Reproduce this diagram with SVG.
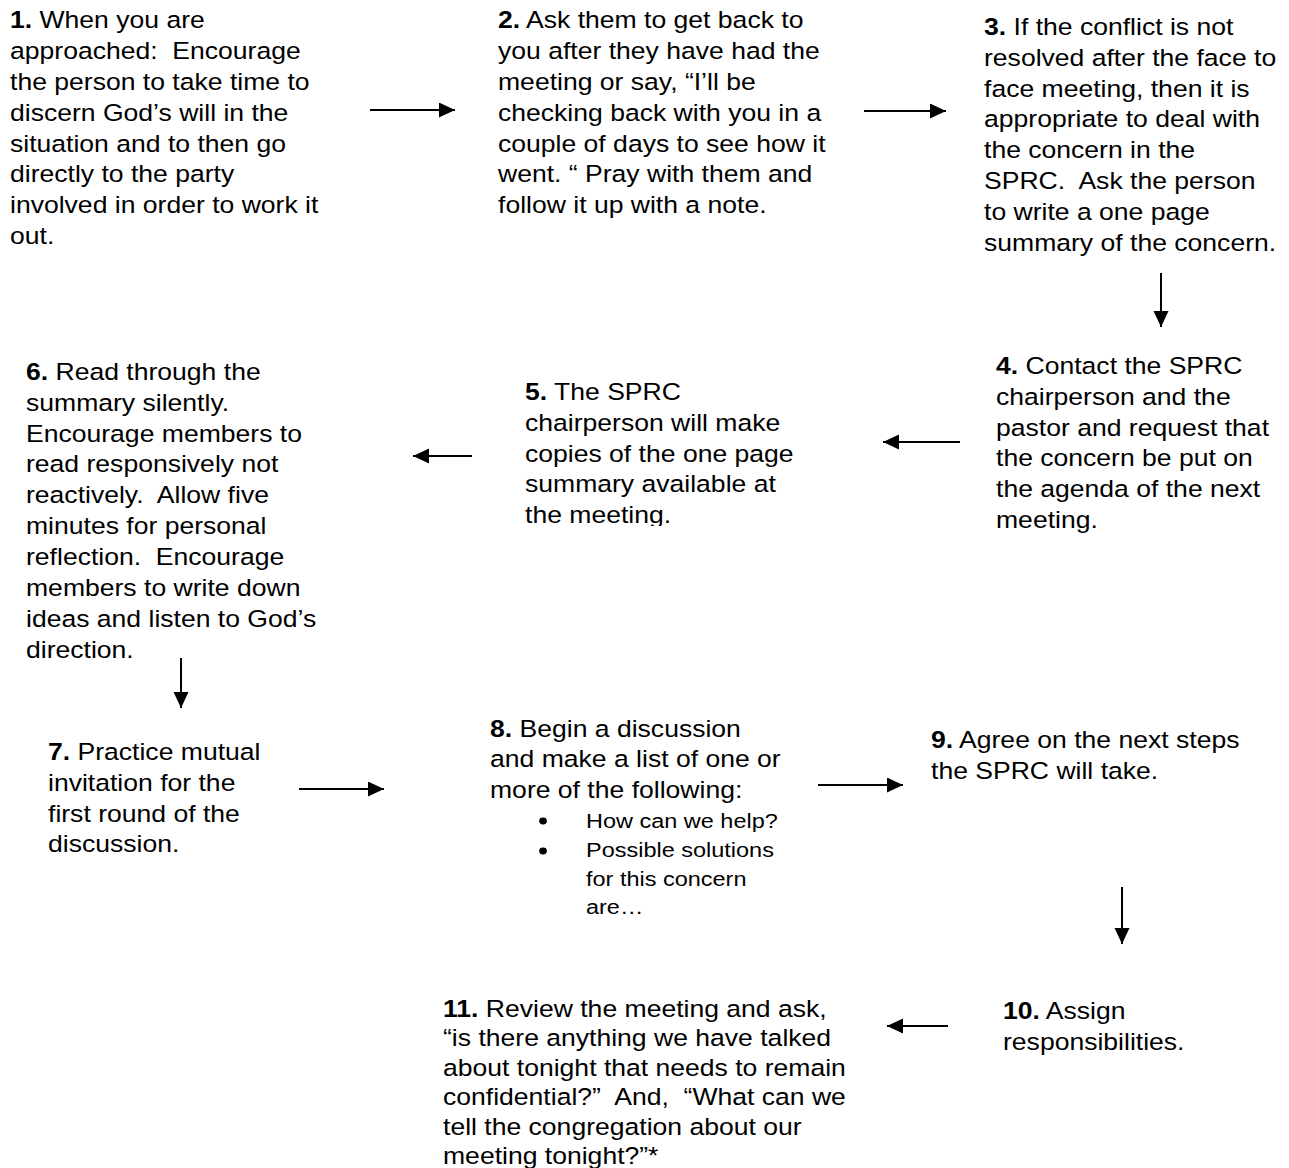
<svg xmlns="http://www.w3.org/2000/svg" width="1289" height="1168" viewBox="0 0 1289 1168">
<style>
  text { font-family: "Liberation Sans", Arial, sans-serif; font-size: 23.3px; fill: #000; }
  .b { font-weight: bold; }
  .sm { font-size: 20.6px; }
  .arr { stroke: #000; stroke-width: 2; fill: none; marker-end: url(#ah); }
</style>
<defs>
  <marker id="ah" markerUnits="userSpaceOnUse" markerWidth="17" markerHeight="16" refX="16" refY="7.5" orient="auto">
    <path d="M0,0 L16,7.5 L0,15 z" fill="#000"/>
  </marker>
  <clipPath id="c5"><rect x="-100" y="300" width="500" height="226"/></clipPath>
</defs>
<rect width="1289" height="1168" fill="#fff"/>

<g id="n1" transform="translate(10,0) scale(1.14,1)">
  <text>
    <tspan x="0" y="28.3"><tspan class="b">1.</tspan> When you are</tspan>
    <tspan x="0" y="59.1">approached:&#160; Encourage</tspan>
    <tspan x="0" y="90">the person to take time to</tspan>
    <tspan x="0" y="120.8">discern God’s will in the</tspan>
    <tspan x="0" y="151.7">situation and to then go</tspan>
    <tspan x="0" y="182.5">directly to the party</tspan>
    <tspan x="0" y="213.4">involved in order to work it</tspan>
    <tspan x="0" y="244.2">out.</tspan>
  </text>
</g>

<g id="n2" transform="translate(498,0) scale(1.14,1)">
  <text>
    <tspan x="0" y="28.3"><tspan class="b">2.</tspan> Ask them to get back to</tspan>
    <tspan x="0" y="59.1">you after they have had the</tspan>
    <tspan x="0" y="90">meeting or say, “I’ll be</tspan>
    <tspan x="0" y="120.8">checking back with you in a</tspan>
    <tspan x="0" y="151.7">couple of days to see how it</tspan>
    <tspan x="0" y="182.5">went. “ Pray with them and</tspan>
    <tspan x="0" y="213.4">follow it up with a note.</tspan>
  </text>
</g>

<g id="n3" transform="translate(984,0) scale(1.14,1)">
  <text>
    <tspan x="0" y="35"><tspan class="b">3.</tspan> If the conflict is not</tspan>
    <tspan x="0" y="65.8">resolved after the face to</tspan>
    <tspan x="0" y="96.7">face meeting, then it is</tspan>
    <tspan x="0" y="127.5">appropriate to deal with</tspan>
    <tspan x="0" y="158.4">the concern in the</tspan>
    <tspan x="0" y="189.2">SPRC.&#160; Ask the person</tspan>
    <tspan x="0" y="220.1">to write a one page</tspan>
    <tspan x="0" y="250.9">summary of the concern.</tspan>
  </text>
</g>

<g id="n4" transform="translate(996,0) scale(1.14,1)">
  <text>
    <tspan x="0" y="374"><tspan class="b">4.</tspan> Contact the SPRC</tspan>
    <tspan x="0" y="404.8">chairperson and the</tspan>
    <tspan x="0" y="435.7">pastor and request that</tspan>
    <tspan x="0" y="466.5">the concern be put on</tspan>
    <tspan x="0" y="497.4">the agenda of the next</tspan>
    <tspan x="0" y="528.2">meeting.</tspan>
  </text>
</g>

<g id="n5" transform="translate(525,0) scale(1.14,1)">
  <text clip-path="url(#c5)">
    <tspan x="0" y="400"><tspan class="b">5.</tspan> The SPRC</tspan>
    <tspan x="0" y="430.8">chairperson will make</tspan>
    <tspan x="0" y="461.7">copies of the one page</tspan>
    <tspan x="0" y="492.5">summary available at</tspan>
    <tspan x="0" y="523.4">the meeting.</tspan>
  </text>
</g>

<g id="n6" transform="translate(26,0) scale(1.14,1)">
  <text>
    <tspan x="0" y="380"><tspan class="b">6.</tspan> Read through the</tspan>
    <tspan x="0" y="410.8">summary silently.</tspan>
    <tspan x="0" y="441.7">Encourage members to</tspan>
    <tspan x="0" y="472.5">read responsively not</tspan>
    <tspan x="0" y="503.4">reactively.&#160; Allow five</tspan>
    <tspan x="0" y="534.2">minutes for personal</tspan>
    <tspan x="0" y="565.1">reflection.&#160; Encourage</tspan>
    <tspan x="0" y="595.9">members to write down</tspan>
    <tspan x="0" y="626.8">ideas and listen to God’s</tspan>
    <tspan x="0" y="657.6">direction.</tspan>
  </text>
</g>

<g id="n7" transform="translate(48,0) scale(1.14,1)">
  <text>
    <tspan x="0" y="760"><tspan class="b">7.</tspan> Practice mutual</tspan>
    <tspan x="0" y="790.8">invitation for the</tspan>
    <tspan x="0" y="821.7">first round of the</tspan>
    <tspan x="0" y="852.5">discussion.</tspan>
  </text>
</g>

<g id="n8" transform="translate(490,0) scale(1.14,1)">
  <text>
    <tspan x="0" y="737"><tspan class="b">8.</tspan> Begin a discussion</tspan>
    <tspan x="0" y="767.5">and make a list of one or</tspan>
    <tspan x="0" y="798">more of the following:</tspan>
  </text>
  <circle cx="46.5" cy="821" r="3.4"/>
  <circle cx="46.5" cy="851" r="3.4"/>
  <text class="sm">
    <tspan x="84.2" y="828.3">How can we help?</tspan>
    <tspan x="84.2" y="857.5">Possible solutions</tspan>
    <tspan x="84.2" y="886">for this concern</tspan>
    <tspan x="84.2" y="914.5">are…</tspan>
  </text>
</g>

<g id="n9" transform="translate(931,0) scale(1.14,1)">
  <text>
    <tspan x="0" y="748"><tspan class="b">9.</tspan> Agree on the next steps</tspan>
    <tspan x="0" y="778.8">the SPRC will take.</tspan>
  </text>
</g>

<g id="n10" transform="translate(1003,0) scale(1.14,1)">
  <text>
    <tspan x="0" y="1019"><tspan class="b">10.</tspan> Assign</tspan>
    <tspan x="0" y="1049.8">responsibilities.</tspan>
  </text>
</g>

<g id="n11" transform="translate(443,0) scale(1.14,1)">
  <text>
    <tspan x="0" y="1017"><tspan class="b">11.</tspan> Review the meeting and ask,</tspan>
    <tspan x="0" y="1046.4">“is there anything we have talked</tspan>
    <tspan x="0" y="1075.8">about tonight that needs to remain</tspan>
    <tspan x="0" y="1105.2">confidential?”&#160; And,&#160; “What can we</tspan>
    <tspan x="0" y="1134.6">tell the congregation about our</tspan>
    <tspan x="0" y="1164">meeting tonight?”*</tspan>
  </text>
</g>

<g id="connectors">
  <line class="arr" x1="370" y1="110" x2="455" y2="110"/>
  <line class="arr" x1="864" y1="111" x2="946" y2="111"/>
  <line class="arr" x1="1161" y1="273" x2="1161" y2="327"/>
  <line class="arr" x1="960" y1="442" x2="883" y2="442"/>
  <line class="arr" x1="472" y1="456" x2="413" y2="456"/>
  <line class="arr" x1="181" y1="658" x2="181" y2="708"/>
  <line class="arr" x1="299" y1="789" x2="384" y2="789"/>
  <line class="arr" x1="818" y1="785" x2="903" y2="785"/>
  <line class="arr" x1="1122" y1="887" x2="1122" y2="944"/>
  <line class="arr" x1="948" y1="1026" x2="887" y2="1026"/>
</g>
</svg>
